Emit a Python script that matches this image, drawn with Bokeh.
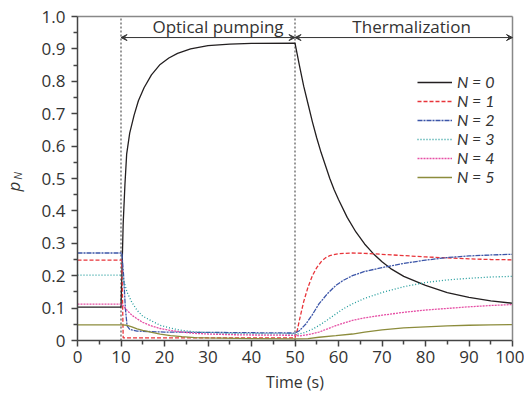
import math
from bokeh.plotting import figure
from bokeh.models import (Arrow, VeeHead, Label, Legend, LegendItem,
                          FixedTicker, Range1d, LinearAxis)
from bokeh.embed import file_html
from bokeh.resources import INLINE

# ---------------- data ----------------
t0 = [0, 10, 10.2, 10.5, 10.9, 11.3, 12, 13, 14, 15.3, 17, 19, 21, 23, 26, 30, 35, 40, 50,
      51, 52, 53, 54, 55, 56, 57, 58, 59, 60, 62, 64, 66, 68, 70, 72, 75, 80, 85, 90, 95, 100]
p0 = [0.103, 0.103, 0.2, 0.36, 0.48, 0.575, 0.64, 0.695, 0.74, 0.78, 0.82, 0.852, 0.872, 0.886, 0.9, 0.91, 0.915, 0.917, 0.918,
      0.85, 0.785, 0.73, 0.675, 0.625, 0.58, 0.54, 0.50, 0.465, 0.435, 0.38, 0.335, 0.298, 0.268, 0.243, 0.222, 0.198, 0.17, 0.148, 0.133, 0.122, 0.115]

t1 = [0, 10.2, 10.5, 50, 50.5, 51, 52, 53, 54, 55, 56, 57, 58, 60, 63, 66, 70, 75, 80, 85, 90, 95, 100]
p1 = [0.248, 0.248, 0.008, 0.008, 0.03, 0.062, 0.12, 0.165, 0.2, 0.225, 0.243, 0.255, 0.262, 0.268, 0.27, 0.269, 0.266, 0.262, 0.258, 0.255, 0.252, 0.25, 0.249]

t2 = [0, 10.2, 10.6, 11, 11.4, 12, 13.7, 20, 30, 40, 50, 51, 52.5, 54, 55.5, 57.5, 59.4, 61, 63.2, 66, 70, 75, 80, 85, 90, 95, 100]
p2 = [0.27, 0.27, 0.2, 0.1, 0.045, 0.034, 0.029, 0.026, 0.025, 0.024, 0.023, 0.03, 0.051, 0.08, 0.113, 0.145, 0.17, 0.185, 0.2, 0.213, 0.225, 0.238, 0.248, 0.256, 0.261, 0.264, 0.266]

t3 = [0, 10.2, 10.5, 11.4, 12.5, 13.7, 15, 16.8, 19, 21.4, 24, 27, 30, 35, 40, 50, 51, 52.5, 54, 55.5, 57.5, 59.4, 61, 63.2, 66, 70, 75, 80, 85, 90, 95, 100]
p3 = [0.202, 0.202, 0.19, 0.149, 0.118, 0.093, 0.075, 0.062, 0.047, 0.038, 0.031, 0.027, 0.024, 0.022, 0.021, 0.02, 0.02, 0.026, 0.035, 0.046, 0.064, 0.082, 0.097, 0.113, 0.13, 0.148, 0.166, 0.179, 0.187, 0.192, 0.196, 0.198]

t4 = [0, 10.2, 11.4, 12.5, 13.7, 15, 16.8, 19, 21.4, 24, 27, 30, 35, 40, 50, 51, 53, 55.5, 57.5, 59.4, 61, 63.2, 66, 70, 75, 80, 85, 90, 95, 100]
p4 = [0.112, 0.112, 0.093, 0.078, 0.067, 0.056, 0.046, 0.037, 0.031, 0.026, 0.022, 0.02, 0.018, 0.017, 0.016, 0.014, 0.018, 0.026, 0.036, 0.046, 0.053, 0.062, 0.07, 0.078, 0.087, 0.094, 0.099, 0.104, 0.108, 0.111]

t5 = [0, 10.2, 11.4, 12.5, 13.7, 15, 16.8, 19, 21.4, 24, 27, 30, 40, 50, 53, 55.5, 59.4, 63.2, 66, 70, 75, 80, 85, 90, 95, 100]
p5 = [0.048, 0.048, 0.047, 0.042, 0.036, 0.031, 0.026, 0.02, 0.015, 0.012, 0.009, 0.008, 0.006, 0.005, 0.006, 0.01, 0.015, 0.02, 0.026, 0.033, 0.039, 0.042, 0.045, 0.047, 0.048, 0.049]

series_labels = ["N = 0", "N = 1", "N = 2", "N = 3", "N = 4", "N = 5"]
series_t = [t0, t1, t2, t3, t4, t5]
series_p = [p0, p1, p2, p3, p4, p5]
colors = ["#231f20", "#e8343a", "#3b55a8", "#1e9a9a", "#e64fa5", "#8c8c3c"]
dashes = ["solid", "4 2", "5 1 2 1", "1 2", "2 1", "solid"]

x_ticks = [0, 10, 20, 30, 40, 50, 60, 70, 80, 90, 100]
x_minor = [5, 15, 25, 35, 45, 55, 65, 75, 85, 95]
y_ticks = [0, 0.1, 0.2, 0.3, 0.4, 0.5, 0.6, 0.7, 0.8, 0.9, 1.0]
y_minor = [0.05, 0.15, 0.25, 0.35, 0.45, 0.55, 0.65, 0.75, 0.85, 0.95]
x_lim = (0, 100)
y_lim = (0, 1.0)

phase_bounds = [10, 50, 100]
phase_labels = ["Optical pumping", "Thermalization"]
phase_label_x = [32.3, 76.8]
arrow_y = 0.935
phase_label_y = 0.969

FONT = "Open Sans"
TXT = "#333333"

# geometry (pixels on the canvas); the frame covers the whole canvas
W, H = 524, 398
X0_PX, X100_PX = 77, 512      # where x = 0 and x = 100 sit
Y0_PX, Y1_PX = 340, 16        # where y = 0 and y = 1 sit
sx = (X100_PX - X0_PX) / (x_lim[1] - x_lim[0])
sy = (Y0_PX - Y1_PX) / (y_lim[1] - y_lim[0])
x_range = Range1d(x_lim[0] - X0_PX / sx, x_lim[1] + (W - X100_PX) / sx)
y_range = Range1d(y_lim[0] - (H - Y0_PX) / sy, y_lim[1] + Y1_PX / sy)

p = figure(frame_width=W, frame_height=H, min_border=0,
           x_range=x_range, y_range=y_range,
           output_backend="svg", toolbar_location=None)
p.background_fill_color = "white"
p.border_fill_color = "white"
p.grid.visible = False
p.outline_line_color = None

for ax, ticks, minor in ((p.xaxis, x_ticks, x_minor), (p.yaxis, y_ticks, y_minor)):
    ax.ticker = FixedTicker(ticks=ticks, minor_ticks=minor)
    ax.axis_line_color = "#444444"
    ax.axis_line_width = 1.5
    ax.major_tick_line_color = "#444444"
    ax.major_tick_line_width = 1.5
    ax.minor_tick_line_color = "#444444"
    ax.minor_tick_line_width = 1.5
    ax.major_tick_in = 0
    ax.major_tick_out = 6
    ax.minor_tick_in = 0
    ax.minor_tick_out = 4
    ax.major_label_text_font = FONT
    ax.major_label_text_font_size = "17px"
    ax.major_label_text_color = TXT

p.yaxis.fixed_location = x_lim[0]
p.yaxis.bounds = y_lim
p.xaxis.fixed_location = y_lim[0]
p.xaxis.bounds = x_lim
p.yaxis.major_label_overrides = {0: "0", 1: "1.0"}
p.yaxis.major_label_standoff = 6
p.xaxis.major_label_standoff = 4
p.xaxis.axis_label = "Time (s)"
p.xaxis.axis_label_text_font = FONT
p.xaxis.axis_label_text_font_size = "16px"
p.xaxis.axis_label_text_font_style = "normal"
p.xaxis.axis_label_text_color = TXT
p.xaxis.axis_label_standoff = 5

# frame border on top and right (plain axis lines, no ticks)
top_ax = LinearAxis(ticker=FixedTicker(ticks=[]), bounds=x_lim, fixed_location=y_lim[1],
                    axis_line_color="#888888", axis_line_width=1.5,
                    major_tick_line_color=None, minor_tick_line_color=None,
                    major_label_text_font_size="0px")
right_ax = LinearAxis(ticker=FixedTicker(ticks=[]), bounds=y_lim, fixed_location=x_lim[1],
                      axis_line_color="#888888", axis_line_width=1.5,
                      major_tick_line_color=None, minor_tick_line_color=None,
                      major_label_text_font_size="0px")
p.add_layout(top_ax, "above")
p.add_layout(right_ax, "right")

# phase boundaries (dotted verticals spanning the y limits)
p.segment(x0=phase_bounds[:2], y0=[y_lim[0]] * 2, x1=phase_bounds[:2], y1=[y_lim[1]] * 2,
          line_color="#777777", line_width=1.5, line_dash="2 2")

# arrows and phase labels
for i in range(2):
    p.add_layout(Arrow(x_start=phase_bounds[i], x_end=phase_bounds[i + 1],
                       y_start=arrow_y, y_end=arrow_y,
                       line_color="#333333", line_width=1,
                       start=VeeHead(size=6, line_color="#333333", line_width=1, fill_color="#333333"),
                       end=VeeHead(size=6, line_color="#333333", line_width=1, fill_color="#333333")))
    p.add_layout(Label(x=phase_label_x[i], y=phase_label_y, text=phase_labels[i],
                       text_font=FONT, text_font_size="17px", text_color=TXT,
                       text_align="center", text_baseline="middle"))

renderers = []
for tt, pp, c, d in zip(series_t, series_p, colors, dashes):
    r = p.line(tt, pp, line_color=c, line_width=1.3, line_dash=d)
    renderers.append(r)

legend = Legend(items=[LegendItem(label=lab, renderers=[r]) for lab, r in zip(series_labels, renderers)],
                location=(417, H - 186), orientation="vertical",
                label_text_font="Lato", label_text_font_size="16px", label_text_font_style="italic",
                label_text_color=TXT, glyph_width=35, glyph_height=18, label_height=18,
                label_standoff=5, spacing=0, padding=0, margin=0,
                border_line_alpha=0, background_fill_alpha=0)
p.add_layout(legend)

# y axis label p_N
p.add_layout(Label(x=-14.8, y=0.475, text="p", angle=math.pi / 2, text_font=FONT,
                   text_font_size="17px", text_font_style="italic", text_color=TXT,
                   text_align="center", text_baseline="middle"))
p.add_layout(Label(x=-13.9, y=0.508, text="N", angle=math.pi / 2, text_font=FONT,
                   text_font_size="11px", text_font_style="italic", text_color=TXT,
                   text_align="center", text_baseline="middle"))

open("out.html", "w").write(file_html(p, INLINE))
